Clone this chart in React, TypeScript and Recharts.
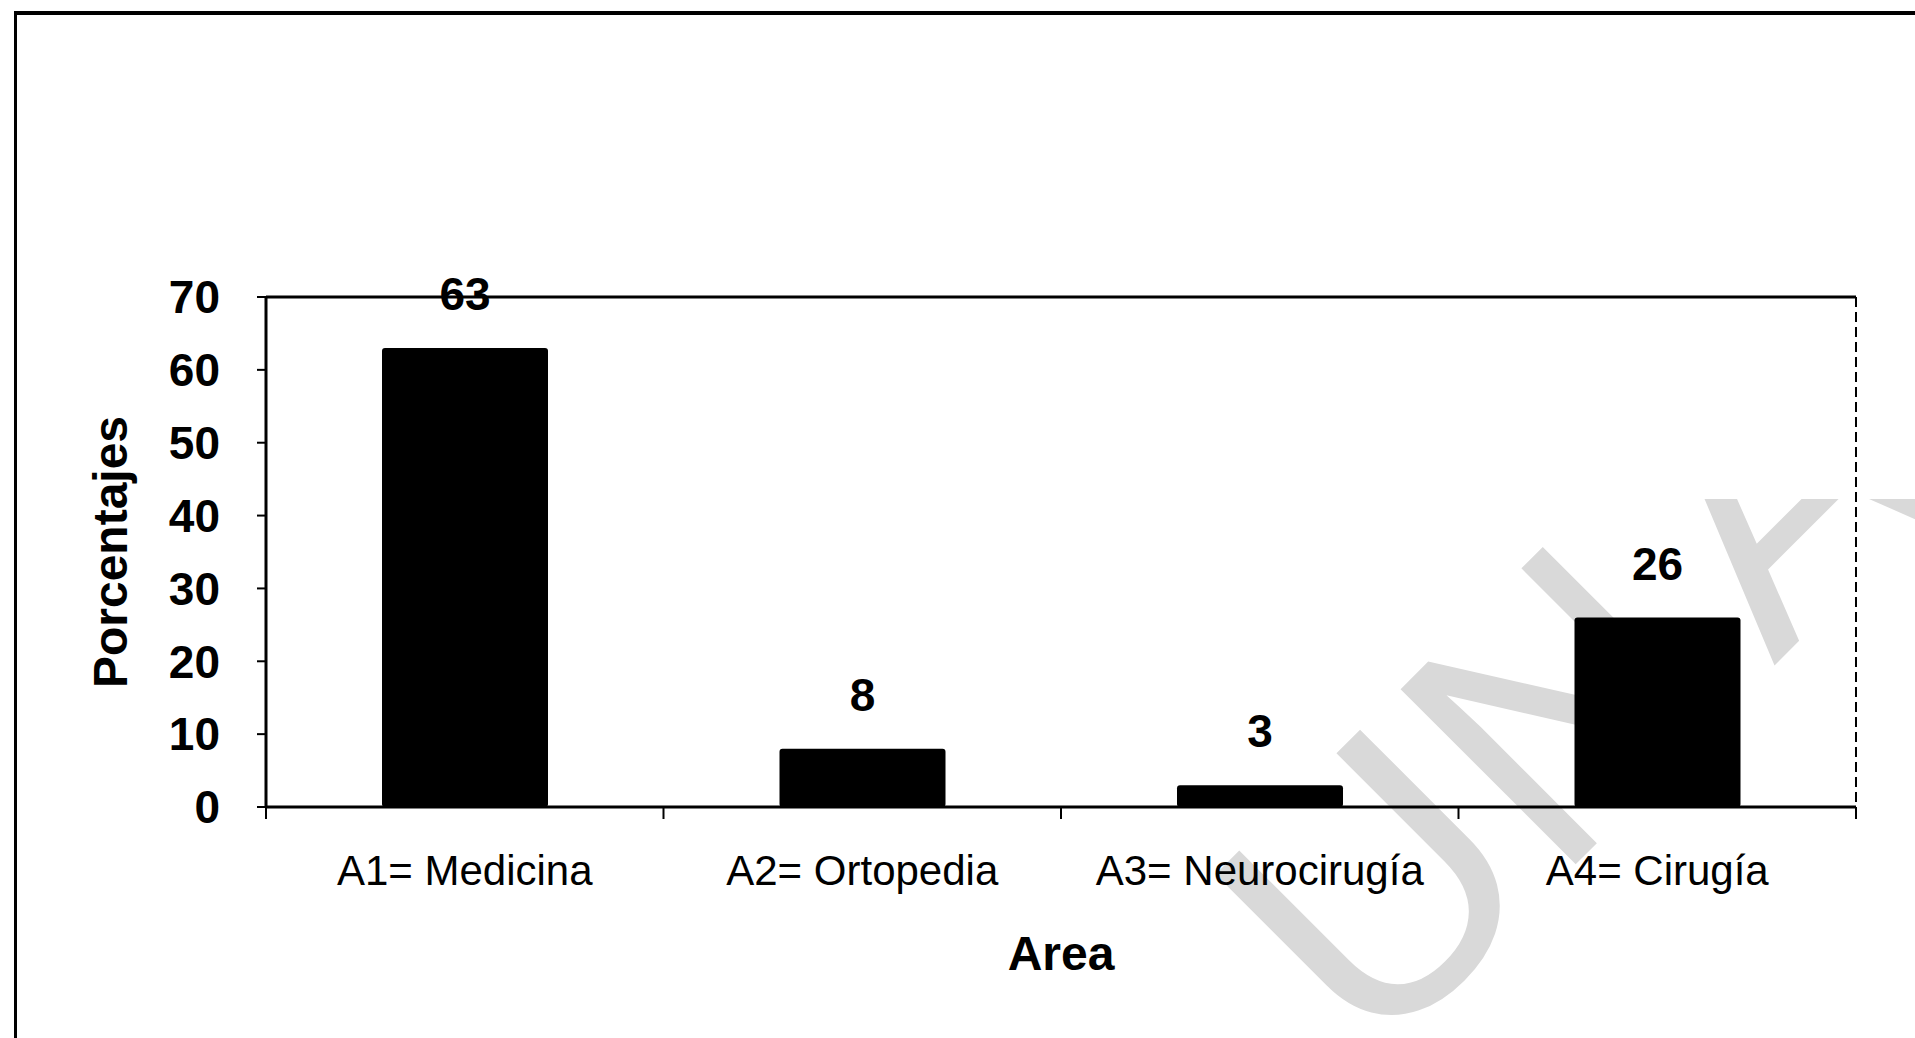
import React from 'react'
import { BarChart, Bar, XAxis, YAxis, LabelList, Label, ReferenceLine, CartesianGrid } from 'recharts'

const areas = ['A1= Medicina', 'A2= Ortopedia', 'A3= Neurocirugía', 'A4= Cirugía']
const porcentajes = [63, 8, 3, 26]
const yTicks = [0, 10, 20, 30, 40, 50, 60, 70]

const data = areas.map((area, i) => ({ area, value: porcentajes[i] }))

const font = '"Liberation Sans", Arial, sans-serif'
const TICK_LEN = 12
const TICK_GAP = 36

// category label plus small tick marks on the band edges
function AreaTick(props: any) {
  const { x, y, payload, index } = props
  const half = payload.offset || 0
  const axisY = y - TICK_LEN - TICK_GAP
  return (
    <g>
      {index === 0 && (
        <line x1={x - half} x2={x - half} y1={axisY} y2={axisY + TICK_LEN} stroke="#000" strokeWidth={2} />
      )}
      <line x1={x + half} x2={x + half} y1={axisY} y2={axisY + TICK_LEN} stroke="#000" strokeWidth={2} />
      <text x={x} y={y} dy="0.71em" textAnchor="middle" fill="#000" fontSize={42} fontFamily={font}>
        {payload.value}
      </text>
    </g>
  )
}

export default function App() {
  return (
    <div style={{ position: 'relative', width: 1915, height: 1038, background: '#fff', overflow: 'hidden', fontFamily: font }}>
      <style>{`body{margin:0}`}</style>

      {/* watermark behind the chart */}
      <svg width={1915} height={1038} style={{ position: 'absolute', left: 0, top: 0 }}>
        <defs>
          <clipPath id="wm">
            <rect x={0} y={499} width={1915} height={539} />
          </clipPath>
        </defs>
        <g clipPath="url(#wm)">
          <text
            transform="translate(1371,1069) rotate(-45)"
            fontFamily={font}
            fontSize={360}
            fill="#d9d9d9"
          >
            UN<tspan dx={50}>AP</tspan>
          </text>
        </g>
      </svg>

      {/* outer frame */}
      <div style={{ position: 'absolute', left: 14, top: 11, right: 0, bottom: 0, borderTop: '4px solid #000', borderLeft: '3px solid #000' }} />

      <div style={{ position: 'absolute', left: 0, top: 0 }}>
        <BarChart
          width={1915}
          height={1038}
          data={data}
          margin={{ top: 297, right: 59, left: 60, bottom: 230 }}
        >
          <CartesianGrid
            horizontal={false}
            verticalCoordinatesGenerator={({ offset }: any) => [offset.left + offset.width]}
            stroke="#000"
            strokeWidth={2}
            strokeDasharray="10 5"
          />
          <XAxis
            dataKey="area"
            height={1}
            tickSize={TICK_LEN}
            tickMargin={TICK_GAP}
            tickLine={false}
            axisLine={{ stroke: '#000', strokeWidth: 3 }}
            tick={<AreaTick />}
            interval={0}
          >
            <Label
              value="Area"
              position="bottom"
              offset={128}
              style={{ fill: '#000', fontSize: 48, fontWeight: 700, fontFamily: font }}
            />
          </XAxis>
          <YAxis
            domain={[0, 70]}
            ticks={yTicks}
            width={206}
            tickSize={9}
            tickMargin={37}
            tickLine={{ stroke: '#000', strokeWidth: 2 }}
            axisLine={{ stroke: '#000', strokeWidth: 3 }}
            tick={{ fill: '#000', fontSize: 46, fontWeight: 700, fontFamily: font }}
          >
            <Label
              value="Porcentajes"
              angle={-90}
              position="insideLeft"
              offset={50}
              style={{ textAnchor: 'middle', fill: '#000', fontSize: 48, fontWeight: 700, fontFamily: font }}
            />
          </YAxis>
          <ReferenceLine y={70} stroke="#000" strokeWidth={3} />
          <Bar dataKey="value" fill="#000" barSize={166} radius={3} isAnimationActive={false}>
            <LabelList
              dataKey="value"
              position="top"
              offset={38}
              style={{ fill: '#000', fontSize: 46, fontWeight: 700, fontFamily: font }}
            />
          </Bar>
        </BarChart>
      </div>
    </div>
  )
}
